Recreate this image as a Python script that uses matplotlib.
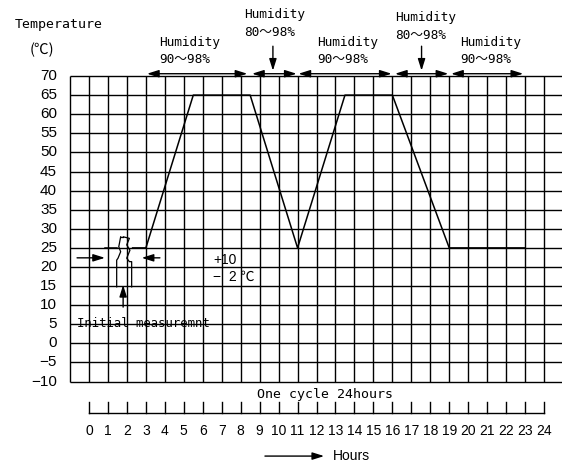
import matplotlib
matplotlib.use("Agg")
import matplotlib.pyplot as plt
import numpy as np

# ---- data ----
temp_ticks = [70, 65, 60, 55, 50, 45, 40, 35, 30, 25, 20, 15, 10, 5, 0, -5, -10]
hour_ticks = list(range(0, 25))

# temperature profile (hours, degC)
cycle_hours = [2.3, 3, 5.5, 8.5, 11, 13.5, 16, 19, 23]
cycle_temps = [25, 25, 65, 65, 25, 65, 65, 25, 25]
stub_hours = [0.84, 1.5]
stub_temps = [25, 25]

# humidity phases (start hour, end hour, label)
hum_starts = [3.06, 8.6, 11.05, 16.14, 19.1]
hum_ends = [8.35, 10.95, 15.96, 18.95, 22.9]
hum_labels = ["Humidity\n90～98%", "Humidity\n80～98%", "Humidity\n90～98%",
              "Humidity\n80～98%", "Humidity\n90～98%"]
hum_text_x = [3.69, 8.18, 12.03, 16.14, 19.57]
hum_text_y = [76.5, 83.8, 76.5, 83.0, 76.5]
down_arrow_x = [9.7, 17.54]

# sample (break) symbol outline
left_h = [1.67, 1.57, 1.67, 1.53, 1.46, 1.46]
left_t = [27.9, 25.3, 24.0, 22.3, 21.8, 14.8]
right_h = [1.81, 2.13, 1.99, 2.16, 1.99, 2.13, 2.25, 2.25]
right_t = [27.9, 27.5, 25.8, 24.4, 22.3, 21.4, 21.4, 14.8]
cap_h = [1.67, 1.81]
cap_t = [27.9, 27.9]

MONO = ['DejaVu Sans Mono', 'Noto Sans CJK JP']
NARROW = ['Liberation Sans', 'DejaVu Sans']

fig = plt.figure(figsize=(5.62, 4.62), dpi=100)
ax = fig.add_axes([0, 0, 1, 1])
ax.set_xlim(-4.694, 24.947)
ax.set_ylim(-31.05, 89.9)
ax.axis('off')

lw = 1.0
# grid
for h in range(-1, 25):
    ax.plot([h, h], [-10, 70], color='black', lw=lw, solid_capstyle='butt')
for t in temp_ticks:
    ax.plot([-1, 24.95], [t, t], color='black', lw=lw, solid_capstyle='butt')

# temperature curve
ax.plot(cycle_hours, cycle_temps, color='black', lw=1.1)
ax.plot(stub_hours, stub_temps, color='black', lw=1.1)
ax.plot(left_h, left_t, color='black', lw=0.9)
ax.plot(right_h, right_t, color='black', lw=0.9)
ax.plot(cap_h, cap_t, color='black', lw=0.9)

# y labels
for t in temp_ticks:
    lab = str(t).replace('-', '−')
    ax.text(-1.69, t, lab, ha='right', va='center', fontsize=11, family=NARROW)

ax.text(-3.9, 83.6, "Temperature", ha='left', va='center', fontsize=9.5, family=MONO)
ax.text(-2.48, 76.8, "(℃)", ha='center', va='center', fontsize=10.5, family=['Noto Sans CJK JP', 'DejaVu Sans'])

# humidity arrows
arrow_kw = dict(arrowstyle='<|-|>,head_length=0.7,head_width=0.22', color='black',
                lw=1.0, shrinkA=0, shrinkB=0, mutation_scale=10)
for s, e in zip(hum_starts, hum_ends):
    ax.annotate('', xy=(e, 70.6), xytext=(s, 70.6), arrowprops=arrow_kw)
for lab, x, y in zip(hum_labels, hum_text_x, hum_text_y):
    ax.text(x, y, lab, ha='left', va='center', fontsize=9.2, family=MONO, linespacing=1.45)
down_kw = dict(arrowstyle='-|>,head_length=0.7,head_width=0.22', color='black',
               lw=1.0, shrinkA=0, shrinkB=0, mutation_scale=10)
for x in down_arrow_x:
    ax.annotate('', xy=(x, 71.4), xytext=(x, 77.8), arrowprops=down_kw)

# initial measurement arrows
ax.annotate('', xy=(0.84, 22.4), xytext=(-0.63, 22.4), arrowprops=down_kw)
ax.annotate('', xy=(2.78, 22.4), xytext=(3.74, 22.4), arrowprops=down_kw)
ax.annotate('', xy=(1.8, 15.3), xytext=(1.8, 9.5), arrowprops=down_kw)
ax.text(-0.63, 5.3, "Initial measuremnt", ha='left', va='center', fontsize=8.8, family=MONO)

# tolerance
ax.text(6.54, 21.8, "+10", ha='left', va='center', fontsize=10, family=NARROW)
ax.text(6.54, 17.4, "−  2 ℃", ha='left', va='center', fontsize=10,
        family=['Liberation Sans', 'Noto Sans CJK JP'])

# hour ruler
ax.text(12.45, -13.5, "One cycle 24hours", ha='center', va='center', fontsize=9.5, family=MONO)
ax.plot([hour_ticks[0], hour_ticks[-1]], [-18.2, -18.2], color='black', lw=lw)
for h in hour_ticks:
    ax.plot([h, h], [-18.2, -15.3], color='black', lw=lw)
    ax.text(h, -22.9, str(h), ha='center', va='center', fontsize=10, family=NARROW)

ax.annotate('', xy=(12.4, -29.5), xytext=(9.28, -29.5), arrowprops=down_kw)
ax.text(12.87, -29.5, "Hours", ha='left', va='center', fontsize=10, family=NARROW)

fig.savefig("out.png", dpi=100)
